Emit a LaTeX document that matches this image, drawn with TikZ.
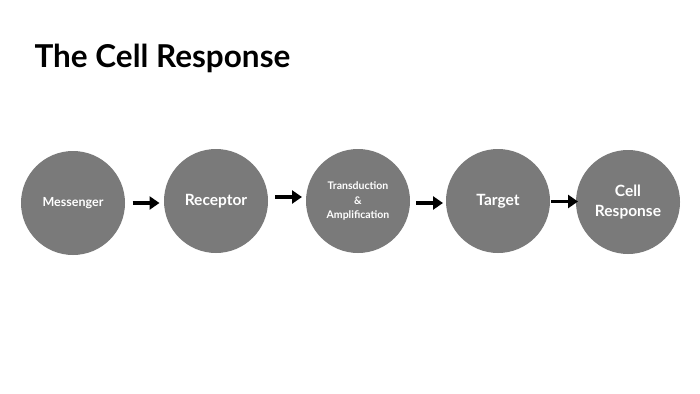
\documentclass[tikz,border=0pt]{standalone}
\usepackage{fontspec}
\setmainfont{Lato}
\usepackage{tikz}
\usetikzlibrary{arrows.meta, positioning, calc}
\usepackage{xcolor}
\definecolor{disc}{HTML}{7A7A7A}

\tikzset{
  stage/.style={circle, fill=disc, minimum size=104pt, inner sep=0pt, align=center,
    text=white, font=\bfseries\fontsize{15.5}{20}\selectfont},
  small/.style={font=\bfseries\fontsize{12.5}{14}\selectfont},
  tiny/.style={font=\bfseries\fontsize{10.5}{14.5}\selectfont},
  flow/.style={line width=3.4pt, -{Triangle[length=10pt, width=13pt]}}
}

\begin{document}
\begin{tikzpicture}[x=1pt, y=-1pt]
      \useasboundingbox[fill=white] (0,0) rectangle (700,393);
      \node[anchor=base west, font=\bfseries\fontsize{31.5}{36}\selectfont] (title) at (31,68) {The Cell Response};
      % the five stages
      \node[stage, small] (msg) at (73,203) {Messenger};
      \node[stage] (rec) at (216,201) {Receptor};
      \node[stage, tiny] (trans) at (358,201) {Transduction\\\&\\Amplification};
      \node[stage] (tgt) at (498,201) {Target};
      \node[stage] (resp) at (628,202) {Cell\\Response};
      % arrows centred in the gaps
      \foreach \a/\b/\dy in {msg/rec/1, rec/trans/-4, trans/tgt/2, tgt/resp/0}{
        \coordinate (mid) at ($(\a.east)!0.5!(\b.west)+(2,\dy)$);
        \draw[flow] ([xshift=-14pt]mid) -- ([xshift=13pt]mid);
      }
    \end{tikzpicture}
\end{document}
